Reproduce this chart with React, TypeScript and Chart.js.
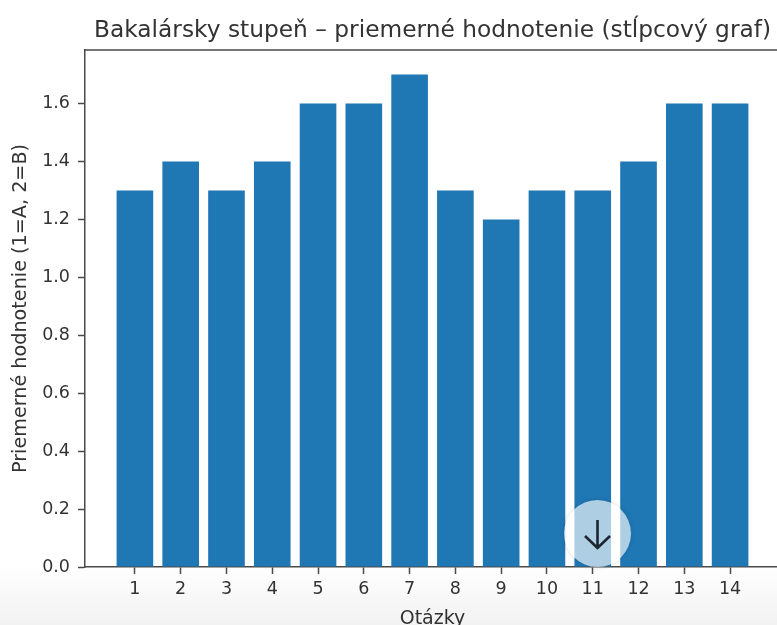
import React, { useEffect, useRef } from "react";
import { Chart, registerables } from "chart.js";

Chart.register(...registerables);

const questions = [1, 2, 3, 4, 5, 6, 7, 8, 9, 10, 11, 12, 13, 14];
const averages = [1.3, 1.4, 1.3, 1.4, 1.6, 1.6, 1.7, 1.3, 1.2, 1.3, 1.3, 1.4, 1.6, 1.6];
const yTicks = [0, 0.2, 0.4, 0.6, 0.8, 1.0, 1.2, 1.4, 1.6];
const chartTitle = "Bakalársky stupeň – priemerné hodnotenie (stĺpcový graf)";
const xTitle = "Otázky";
const yTitle = "Priemerné hodnotenie (1=A, 2=B)";

const FONT = "'DejaVu Sans', sans-serif";
const INK = "#333333";
const SPINE = "#4a4a4a";

const topSpine = {
  id: "topSpine",
  afterDatasetsDraw(chart: any) {
    const { ctx, chartArea: a } = chart;
    ctx.save();
    ctx.strokeStyle = SPINE;
    ctx.lineWidth = 1.5;
    ctx.beginPath();
    ctx.moveTo(a.left, a.top);
    ctx.lineTo(a.right, a.top);
    ctx.lineTo(a.right, a.bottom);
    ctx.stroke();
    ctx.restore();
  },
};

export default function App() {
  const ref = useRef<HTMLCanvasElement | null>(null);

  useEffect(() => {
    if (!ref.current) return;
    const chart = new Chart(ref.current, {
      type: "bar",
      plugins: [topSpine],
      data: {
        datasets: [
          {
            data: questions.map((q, i) => ({ x: q, y: averages[i] })),
            backgroundColor: "#1f77b4",
            barPercentage: 0.8,
            categoryPercentage: 1,
          },
        ],
      },
      options: {
        animation: false,
        responsive: false,
        layout: { padding: { left: 0, right: 10, top: 0, bottom: 0 } },
        plugins: {
          legend: { display: false },
          tooltip: { enabled: false },
          title: {
            display: true,
            text: chartTitle,
            fullSize: false,
            color: INK,
            font: { family: FONT, size: 23.3, weight: "normal" },
            padding: { top: 17, bottom: 5 },
          } as any,
        },
        scales: {
          x: {
            type: "linear",
            offset: false,
            min: -0.09,
            max: 15.09,
            afterBuildTicks: (s: any) => {
              s.ticks = questions.map((value) => ({ value }));
            },
            afterFit: (s: any) => {
              s.height = 58;
            },
            grid: { display: true, offset: false, drawOnChartArea: false, drawTicks: true, tickLength: 7, tickColor: SPINE, tickWidth: 1.5 } as any,
            border: { color: SPINE, width: 1.5 },
            ticks: {
              color: INK,
              font: { family: FONT, size: 17.5 },
              padding: 5,
              maxRotation: 0,
              autoSkip: false,
              callback: (v: any) => String(v),
            },
            title: {
              display: true,
              text: xTitle,
              color: INK,
              font: { family: FONT, size: 19 },
              padding: { top: 0, bottom: -5 },
            },
          },
          y: {
            min: 0,
            max: 1.785,
            afterBuildTicks: (s: any) => {
              s.ticks = yTicks.map((value) => ({ value }));
            },
            afterFit: (s: any) => {
              s.width = 85;
            },
            grid: { display: true, drawOnChartArea: false, drawTicks: true, tickLength: 7, tickColor: SPINE, tickWidth: 1.5 } as any,
            border: { color: SPINE, width: 1.5 },
            ticks: {
              color: INK,
              font: { family: FONT, size: 17.5 },
              padding: 8,
              callback: (v: any) => Number(v).toFixed(1),
            },
            title: {
              display: true,
              text: yTitle,
              color: INK,
              font: { family: FONT, size: 19.2 },
              padding: { top: 9, bottom: 4 },
            },
          },
        },
      },
    } as any);
    return () => chart.destroy();
  }, []);

  return (
    <div style={{ position: "fixed", left: 0, top: 0, width: 777, height: 625, overflow: "hidden", background: "#fff" }}>
      <canvas
        ref={ref}
        width={790}
        height={625}
        style={{ position: "absolute", left: 0, top: 0, width: 790, height: 625, filter: "blur(0.6px)" }}
      />
      <div
        style={{
          position: "absolute",
          left: 0,
          top: 565,
          width: 777,
          height: 60,
          mixBlendMode: "multiply",
          background: "linear-gradient(to bottom, #ffffff, #f2f2f2)",
        }}
      />
      <div
        style={{
          position: "absolute",
          left: 564,
          top: 500,
          width: 67,
          height: 67,
          borderRadius: "50%",
          background: "rgba(255,255,255,0.64)",
          boxShadow: "0 0 4px rgba(0,0,0,0.15)",
        }}
      >
        <svg width={67} height={67} viewBox="0 0 67 67" style={{ filter: "blur(0.5px)" }}>
          <path d="M33.5 20 V47 M21 36 L33.5 48 L46 36" fill="none" stroke="#1c2530" strokeWidth={2.6} />
        </svg>
      </div>
    </div>
  );
}
